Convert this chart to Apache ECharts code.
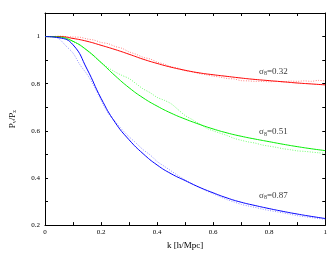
<!DOCTYPE html>
<html><head><meta charset="utf-8">
<script src="https://cdn.jsdelivr.net/npm/echarts@6/dist/echarts.min.js"></script>
<style>html,body{margin:0;padding:0;background:#fff}#c{width:330px;height:255px}</style>
</head><body><div id="c"></div>
<script>
var kModel = [0,0.05,0.1,0.15,0.2,0.25,0.3,0.35,0.4,0.45,0.5,0.55,0.6,0.65,0.7,0.75,0.8,0.85,0.9,0.95,1.0];
var redModel = [1.0,1.0,0.992,0.98,0.963,0.945,0.925,0.904,0.886,0.87,0.857,0.846,0.838,0.831,0.824,0.818,0.813,0.808,0.803,0.799,0.795];
var greenModel = [1.0,0.998,0.98,0.942,0.89,0.834,0.783,0.74,0.705,0.675,0.65,0.628,0.608,0.591,0.577,0.565,0.554,0.543,0.533,0.524,0.516];
var blueModel = [1.0,0.995,0.965,0.862,0.738,0.636,0.562,0.503,0.455,0.418,0.389,0.361,0.337,0.315,0.297,0.283,0.27,0.258,0.247,0.237,0.228];

var kSim = [0,0.025,0.05,0.075,0.1,0.125,0.15,0.175,0.2,0.225,0.25,0.275,0.3,0.325,0.35,0.375,0.4,0.425,0.45,0.475,0.5,0.525,0.55,0.575,0.6,0.625,0.65,0.675,0.7,0.725,0.75,0.775,0.8,0.825,0.85,0.875,0.9,0.925,0.95,0.975,1.0];
var redSim = [1.0,1.0,1.002,1.0,0.998,0.997,0.99,0.985,0.975,0.97,0.958,0.95,0.935,0.925,0.912,0.905,0.892,0.883,0.872,0.866,0.855,0.85,0.843,0.838,0.832,0.828,0.822,0.82,0.813,0.812,0.81,0.81,0.808,0.81,0.808,0.811,0.81,0.812,0.81,0.814,0.812];
var greenSim = [1.0,1.0,0.998,0.99,0.978,0.962,0.94,0.915,0.89,0.868,0.85,0.835,0.822,0.8,0.778,0.762,0.742,0.73,0.715,0.69,0.665,0.648,0.63,0.612,0.6,0.59,0.58,0.568,0.56,0.553,0.548,0.54,0.535,0.53,0.524,0.52,0.515,0.513,0.51,0.507,0.505];
var blueSim = [1.0,1.0,0.99,0.96,0.93,0.88,0.84,0.79,0.73,0.675,0.64,0.605,0.575,0.548,0.52,0.498,0.47,0.45,0.43,0.41,0.392,0.375,0.36,0.346,0.333,0.32,0.308,0.298,0.288,0.281,0.275,0.268,0.262,0.257,0.252,0.246,0.24,0.236,0.232,0.228,0.225];

var labelK = [0.764,0.764,0.764];
var labelV = [0.853,0.596,0.327];
var labelText = ['0.32','0.51','0.87'];

var xTicks = ['0','0.2','0.4','0.6','0.8','1'];
var yTicks = ['0.2','0.4','0.6','0.8','1'];

function zip(a,b){return a.map(function(v,i){return [v,b[i]];});}
var F = '"Liberation Serif","DejaVu Serif",serif';

function fmtX(v){var n=Math.round(v*10); return n%2===0 ? xTicks[n/2] : '';}
function fmtY(v){var n=Math.round(v*10); return (n%2===0 && n>=2 && n<=10) ? yTicks[n/2-1] : '';}

var chart = echarts.init(document.getElementById('c'), null, {renderer:'canvas'});
function axLine(){return {show:true, onZero:false, lineStyle:{color:'#000', width:1}};}
function tick(){return {show:true, inside:true, length:3, lineStyle:{color:'#000', width:1}};}

function modelSeries(data,color){
  return {type:'line', data:data, smooth:0.5, showSymbol:false, symbol:'none',
    lineStyle:{color:color, width:1}, z:3, animation:false};
}
function simSeries(data,color){
  return {type:'line', data:data, smooth:0.3, showSymbol:false, symbol:'none',
    lineStyle:{color:color, width:1, type:[1,1.5]}, z:2, animation:false};
}

var rich = {
  s:{fontFamily:F, fontSize:9, color:'#000'},
  sub:{fontFamily:F, fontSize:6, color:'#000', padding:[5,0,0,0]}
};

chart.setOption({
  animation:false,
  grid:{left:38, right:4, top:13, bottom:21},
  xAxis:[
    {type:'value', min:0, max:1, interval:0.1, position:'bottom',
     axisLine:axLine(), axisTick:tick(), splitLine:{show:false},
     axisLabel:{formatter:fmtX, fontFamily:F, fontSize:7, color:'#000', margin:4, showMaxLabel:true, showMinLabel:true},
     name:'k [h/Mpc]', nameLocation:'middle', nameGap:14,
     nameTextStyle:{fontFamily:F, fontSize:9, color:'#000'}},
    {type:'value', min:0, max:1, interval:0.1, position:'top',
     axisLine:axLine(), axisTick:tick(), splitLine:{show:false}, axisLabel:{show:false}}
  ],
  yAxis:[
    {type:'value', min:0.2, max:1.1, interval:0.1, position:'left',
     axisLine:axLine(), axisTick:tick(), splitLine:{show:false},
     axisLabel:{formatter:fmtY, fontFamily:F, fontSize:7, color:'#000', margin:5},
     name:'{s|P}{sub|v}{s|/P}{sub|z}', nameLocation:'middle', nameGap:28, nameRotate:90,
     nameTextStyle:{fontFamily:F, fontSize:9, color:'#000', rich:{
       s:{fontFamily:F, fontSize:9, color:'#000'},
       sub:{fontFamily:F, fontSize:6, color:'#000', verticalAlign:'bottom'}
     }}},
    {type:'value', min:0.2, max:1.1, interval:0.1, position:'right',
     axisLine:axLine(), axisTick:tick(), splitLine:{show:false}, axisLabel:{show:false}}
  ],
  series:[
    simSeries(zip(kSim,redSim),'rgba(255,90,90,0.75)'),
    simSeries(zip(kSim,greenSim),'rgba(90,255,90,0.85)'),
    simSeries(zip(kSim,blueSim),'rgba(110,110,255,0.75)'),
    modelSeries(zip(kModel,redModel),'#ff0000'),
    modelSeries(zip(kModel,greenModel),'#00ee00'),
    modelSeries(zip(kModel,blueModel),'#0000ff'),
    {type:'scatter', symbolSize:0, z:5, animation:false,
     data:labelK.map(function(k,i){return {value:[k,labelV[i]], txt:labelText[i]};}),
     label:{show:true, position:'right', distance:0,
       formatter:function(p){return '{s|σ}{sub|8}{s|='+p.data.txt+'}';},
       rich:rich}}
  ]
});
</script></body></html>
